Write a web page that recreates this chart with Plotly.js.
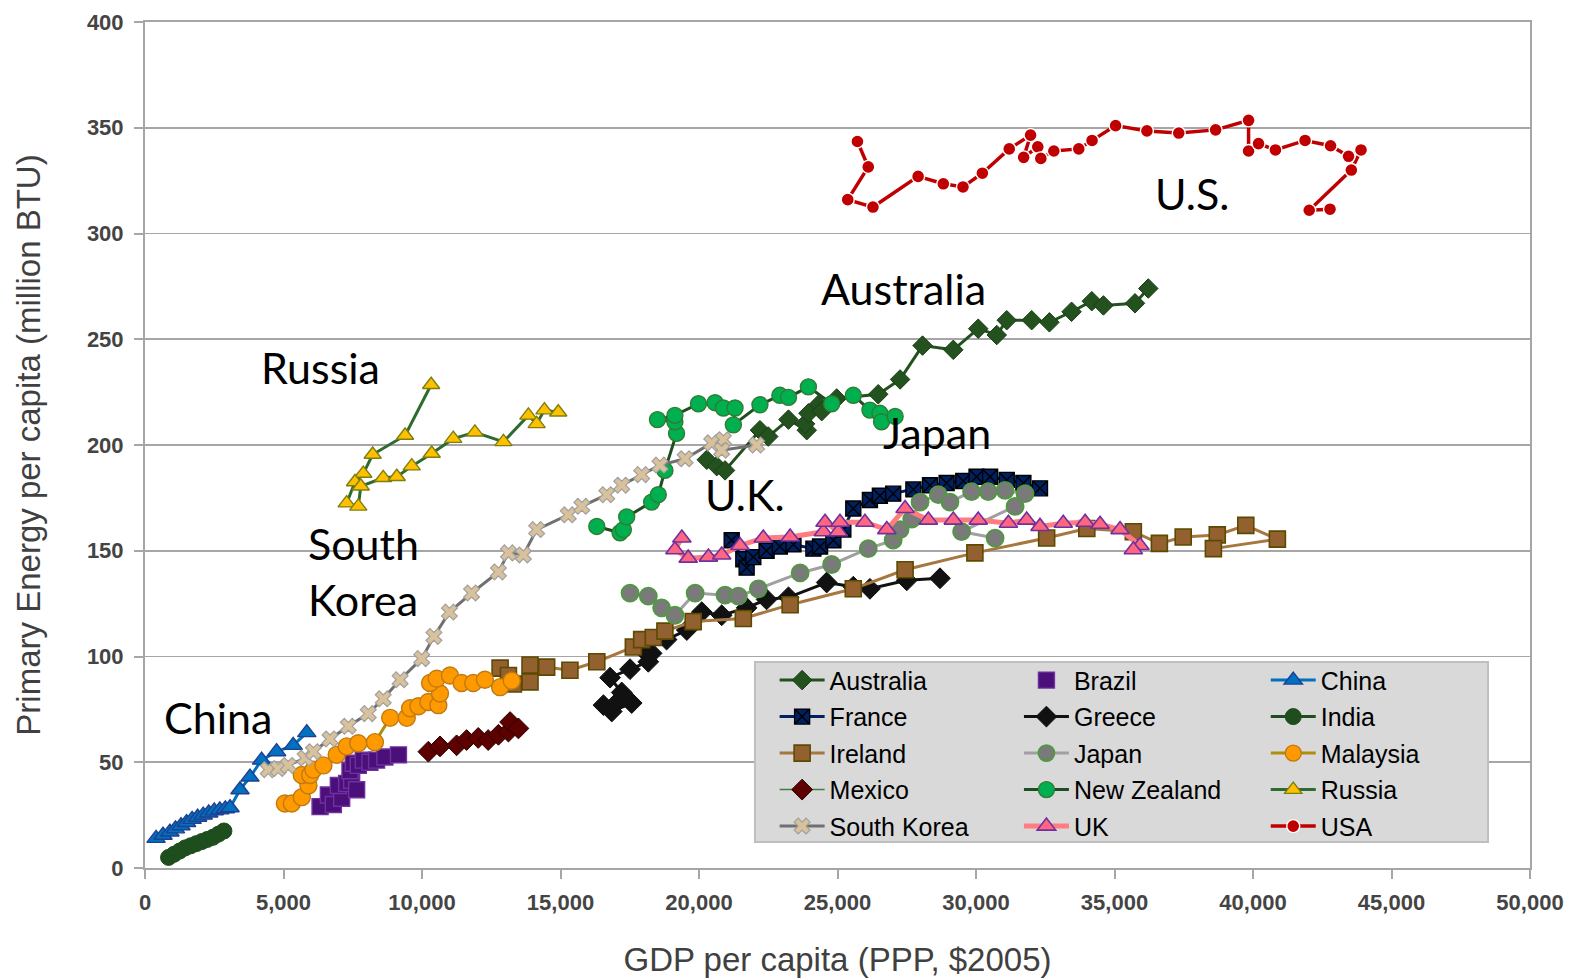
<!DOCTYPE html>
<html>
<head>
<meta charset="utf-8">
<script src="https://cdn.plot.ly/plotly-3.0.1.min.js"></script>
<style>html,body{margin:0;padding:0;background:#fff;}#chart{width:1572px;height:980px;}</style>
</head>
<body>
<div id="chart"></div>
<script>
// ---- data (GDP per capita PPP $2005, primary energy per capita million BTU) ----
const AUS_X = [20280, 20640, 20940, 22200, 22500, 23230, 23890, 23830, 24310, 23950, 24430, 24970, 26470, 27260, 28070, 29180, 30080, 30750, 31110, 32010, 32650, 33450, 34180, 34600, 35740, 36220];
const AUS_Y = [193, 190, 188, 207, 204, 212, 207, 210, 219, 215, 216, 222, 224, 231, 247, 245, 255, 252, 259, 259, 258, 263, 268, 266, 267, 274];

const BRA_X = [6320, 6620, 6800, 7100, 6980, 7280, 7460, 7640, 7400, 7520, 7700, 7880, 8120, 8360, 8660, 9150];
const BRA_Y = [29, 34.5, 30, 33, 39, 40, 41.5, 37, 46, 49.5, 48.5, 51, 50, 51, 52.5, 53.5];

const CHN_X = [400, 650, 900, 1100, 1300, 1500, 1700, 1900, 2100, 2300, 2500, 2700, 2900, 3070, 3430, 3790, 4210, 4750, 5350, 5840];
const CHN_Y = [14, 15.5, 17, 18.5, 20, 21.5, 23, 24, 25, 26, 27, 27.5, 28, 28.5, 37, 43, 51, 55, 58, 64];

const FRA_X = [21180, 21600, 21720, 21960, 22440, 22920, 23410, 24130, 24370, 24850, 25210, 25570, 26170, 26530, 27010, 27740, 28340, 28940, 29540, 30020, 30510, 31110, 31710, 32310];
const FRA_Y = [155, 146, 142, 147, 150, 152, 153, 151, 152, 155, 160, 170, 174, 176, 177, 179, 181, 182, 183, 185, 185, 183.5, 182, 179.5];

const GRC_X = [16550, 16850, 17570, 17090, 17210, 16790, 17510, 18170, 18290, 17930, 18830, 19560, 20100, 20820, 21720, 22440, 23230, 24610, 25570, 26170, 27500, 28700];
const GRC_Y = [77, 74, 78, 79, 83, 90, 94, 97.5, 101.5, 104, 108, 112.5, 121, 119.5, 123, 127, 128, 135, 133, 132, 136, 137];

const IND_X = [850, 1050, 1250, 1450, 1650, 1850, 2050, 2250, 2450, 2650, 2850];
const IND_Y = [5, 6.5, 8, 9.5, 10.5, 11.5, 12.5, 13.5, 14.5, 16, 17.5];

const IRL_X = [12820, 13120, 13300, 13900, 13900, 14500, 15340, 16310, 17630, 17930, 18350, 18770, 19790, 21600, 23290, 25570, 27440, 29960, 32550, 34000, 35680, 36620, 37480, 38710, 39740, 40880, 38570];
const IRL_Y = [94.5, 91, 87, 88, 96, 95, 93.5, 97.5, 104.5, 108, 109, 112, 116.5, 118, 124.5, 132, 141, 149, 156, 160.5, 159, 153.5, 156.5, 157.5, 162, 155.5, 151];

const JPN_X = [17510, 18170, 18650, 19130, 19860, 20940, 21420, 22140, 23650, 24790, 26110, 27010, 27260, 27680, 27980, 28640, 29060, 29840, 30440, 31050, 31770, 31410, 29480, 30690];
const JPN_Y = [130, 128.5, 123, 119.5, 130, 129, 128.5, 132, 139.5, 143.5, 151, 155, 160, 165, 173, 176.5, 173, 178, 178, 178.5, 177, 171, 159, 156];

const MYS_X = [5050, 5300, 5660, 5900, 5660, 5960, 6080, 6440, 6920, 7280, 7700, 8300, 8850, 9450, 9570, 9870, 10230, 10590, 10650, 10290, 10530, 11010, 11430, 11850, 12270, 12820, 13240];
const MYS_Y = [30.5, 30.5, 33.5, 39, 44, 44, 46.5, 48.5, 53.5, 57.5, 59, 59.5, 71, 71, 75.5, 76.5, 78.5, 77, 82.5, 87.5, 89.5, 91, 87.5, 87.5, 89, 85.5, 88.5];

const MEX_X = [10230, 10650, 11250, 11610, 12030, 12390, 12760, 13120, 13180, 13480];
const MEX_Y = [55, 57.5, 58, 60.5, 61.5, 60.5, 63, 64.5, 69, 66];

const NZL_X = [16310, 17150, 17270, 17390, 18290, 18530, 18770, 19190, 19130, 18500, 19130, 19980, 20580, 20880, 21300, 21240, 22200, 22920, 23230, 23950, 24790, 25570, 26170, 26530, 26590, 27080];
const NZL_Y = [161.5, 158.5, 160, 166, 173, 176.5, 188, 205.5, 211, 212, 214, 219.5, 220, 217.5, 217.5, 209.5, 219, 223.5, 222.5, 227.5, 219.5, 223.5, 216.5, 215, 211, 213.5];

const RUS_X = [10330, 9390, 8220, 7880, 7580, 7280, 7700, 7790, 8600, 9090, 9630, 10350, 11130, 11910, 12940, 13840, 14140, 14420, 14920];
const RUS_Y = [228.5, 204.5, 195.5, 186.5, 182.5, 172.5, 171, 180.5, 184.5, 185, 190, 196, 203, 206, 201.5, 214, 210, 216.5, 215.5];

const KOR_X = [4450, 4810, 5170, 5780, 6080, 6680, 7340, 8060, 8600, 9210, 9990, 10430, 10990, 11790, 12760, 13120, 13660, 14140, 15280, 15770, 16670, 17210, 17930, 18590, 19500, 20460, 20880, 20820, 22080];
const KOR_Y = [46.5, 47, 48.5, 52, 55, 61, 67, 73, 80, 89, 99, 109.5, 121, 130, 140, 149, 148, 160, 167, 171, 176.5, 181, 186, 190.5, 193.5, 201, 202.5, 197.5, 200];

const GBR_X = [19380, 19130, 19610, 20340, 20820, 21480, 22320, 23290, 24490, 24550, 25030, 25090, 25990, 26780, 27440, 28280, 29180, 30080, 31170, 31830, 32310, 33150, 33940, 34480, 35200, 35920, 35680];
const GBR_Y = [156, 150.5, 146.5, 147, 148, 152.5, 156, 156.5, 159, 163.5, 159, 163.5, 163.5, 160, 170, 164.5, 164.5, 164.5, 163, 164.5, 161.5, 163, 163.5, 162.5, 160, 152.5, 150.5];

const USA_X = [25720, 26110, 25370, 26280, 27910, 28820, 29530, 30230, 31200, 31970, 31720, 32230, 32340, 32810, 33710, 34190, 35040, 36170, 37320, 38650, 39840, 39840, 40200, 40810, 41880, 42800, 43450, 43900, 43550, 42030, 42780];
const USA_Y = [343.5, 331.5, 316, 312.5, 327, 323.5, 322, 328.5, 340, 346.5, 336, 341, 335.5, 339, 340, 344, 351, 348.5, 347.5, 349, 353.5, 339, 342.5, 339.5, 344, 341.5, 336.5, 339.5, 330, 311, 311.5];

const COUNTRY_LABELS = ["U.S.", "Australia", "Russia", "Japan", "U.K.", "South<br>Korea", "China"];
const LABEL_X = [37780, 27380, 6320, 28600, 21660, 7870, 2630];
const LABEL_Y = [319, 274, 236.5, 206, 176.5, 140, 71];

const X_TICKS = [0, 5000, 10000, 15000, 20000, 25000, 30000, 35000, 40000, 45000, 50000];
const Y_TICKS = [0, 50, 100, 150, 200, 250, 300, 350, 400];

// ---- traces ----
function tr(name, x, y, legend, lineColor, lineWidth, symbol, mSize, mFill, mLine, mLineW, mode) {
  return {
    type: 'scatter', name: name, x: x, y: y, legend: legend, legendgroup: name,
    mode: mode || 'lines+markers',
    line: {color: lineColor, width: lineWidth},
    marker: {symbol: symbol, size: mSize, color: mFill, line: {color: mLine, width: mLineW}},
    hoverinfo: 'skip'
  };
}

const traces = [
  tr('Australia', AUS_X, AUS_Y, 'legend', '#24521f', 3, 'diamond', 15, '#24521f', '#1b3d17', 1),
  tr('Brazil', BRA_X, BRA_Y, 'legend2', '#4b0f7a', 2, 'square', 16, '#4b0f7a', '#7030a0', 1.4, 'markers'),
  tr('China', CHN_X, CHN_Y, 'legend3', '#0070c0', 3, 'triangle-up', 16, '#0070c0', '#1f3f8f', 1.4),
  tr('France', FRA_X, FRA_Y, 'legend', '#002060', 3, 'square-x', 15, '#002060', '#000000', 1.4),
  tr('Greece', GRC_X, GRC_Y, 'legend2', '#111111', 3, 'diamond', 16, '#111111', '#111111', 1),
  tr('India', IND_X, IND_Y, 'legend3', '#1e4d1e', 3, 'circle', 16, '#1e4d1e', '#1e4d1e', 1),
  tr('Ireland', IRL_X, IRL_Y, 'legend', '#a6773f', 3, 'square', 16, '#936030', '#5c4a00', 1.6),
  tr('Japan', JPN_X, JPN_Y, 'legend2', '#a0a0a0', 3, 'circle', 17, '#7a7a7a', '#4e9a3e', 1.8),
  tr('Malaysia', MYS_X, MYS_Y, 'legend3', '#b08d0a', 3, 'circle', 17, '#ff9900', '#c07a10', 1.4),
  tr('Mexico', MEX_X, MEX_Y, 'legend', '#3f7f3f', 1.5, 'diamond', 16, '#5c0000', '#2a0000', 1),
  tr('New Zealand', NZL_X, NZL_Y, 'legend2', '#1e4d1e', 3, 'circle', 16, '#00b050', '#2e7d32', 1.4),
  tr('Russia', RUS_X, RUS_Y, 'legend3', '#2e6b2e', 3, 'triangle-up', 15, '#ffc000', '#7f7f10', 1.4),
  tr('South Korea', KOR_X, KOR_Y, 'legend', '#707070', 3, 'x', 14, '#d9c19b', '#a0a0a0', 1.2),
  tr('UK', GBR_X, GBR_Y, 'legend2', '#ff7c80', 5, 'triangle-up', 16, '#ff6680', '#7030a0', 1.6),
  tr('USA', USA_X, USA_Y, 'legend3', '#c00000', 3.5, 'circle', 13, '#c00000', '#ffffff', 1.4)
];

const annotations = COUNTRY_LABELS.map((t, i) => ({
  text: t, x: LABEL_X[i], y: LABEL_Y[i], xref: 'x', yref: 'y',
  showarrow: false, xanchor: 'center', yanchor: 'middle', align: 'left',
  font: {family: 'Lato, "Open Sans", sans-serif', size: 43, color: '#000000'}
}));

const legendFont = {family: '"Liberation Sans", Arial, sans-serif', size: 25, color: '#000000'};
function leg(x) {
  return {x: x, y: 0.249, xanchor: 'left', yanchor: 'top', xref: 'paper', yref: 'paper',
    orientation: 'v', bgcolor: 'rgba(0,0,0,0)', borderwidth: 0, font: legendFont,
    itemwidth: 45, tracegroupgap: 1};
}

const tickFont = {family: '"Liberation Sans", Arial, sans-serif', size: 22, color: '#444444', weight: 'bold'};

const layout = {
  width: 1572, height: 980,
  paper_bgcolor: '#ffffff', plot_bgcolor: '#ffffff',
  margin: {l: 145, r: 42, t: 22, b: 112},
  showlegend: true,
  font: {family: '"Liberation Sans", Arial, sans-serif', color: '#404040'},
  xaxis: {
    range: [0, 50000], tickvals: X_TICKS, tickformat: ',d',
    showgrid: false, zeroline: false,
    showline: true, linecolor: '#a6a6a6', linewidth: 2, mirror: true,
    ticks: 'outside', ticklen: 9, tickcolor: '#a6a6a6', tickwidth: 2,
    ticklabelstandoff: 5,
    tickfont: tickFont,
    title: {text: 'GDP per capita (PPP, $2005)', font: {size: 33, color: '#404040'}, standoff: 33}
  },
  yaxis: {
    range: [0, 400], tickvals: Y_TICKS,
    showgrid: true, gridcolor: '#a6a6a6', gridwidth: 1.6, zeroline: false,
    showline: true, linecolor: '#a6a6a6', linewidth: 2, mirror: true,
    ticks: 'outside', ticklen: 9, tickcolor: '#a6a6a6', tickwidth: 2,
    ticklabelstandoff: 6,
    tickfont: tickFont,
    title: {text: 'Primary Energy per capita (million BTU)', font: {size: 33, color: '#404040'}, standoff: 36}
  },
  legend: leg(0.4546),
  legend2: leg(0.631),
  legend3: leg(0.8092),
  shapes: [{
    type: 'rect', xref: 'paper', yref: 'paper', x0: 0.4404, x1: 0.9697, y0: 0.0307, y1: 0.2435,
    fillcolor: '#d9d9d9', line: {color: '#bfbfbf', width: 2}, layer: 'above'
  }],
  annotations: annotations
};

Plotly.newPlot('chart', traces, layout, {displayModeBar: false, staticPlot: true});
</script>
</body>
</html>
